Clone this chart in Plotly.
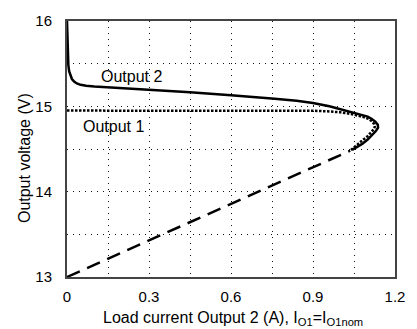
import plotly.graph_objects as go

# Output 2 voltage vs. its load current (solid curve, folds back at the current limit)
output2_current = [0.0, 0.001, 0.002, 0.003, 0.005, 0.008, 0.012, 0.018, 0.026, 0.036, 0.05,
                   0.07, 0.1, 0.15, 0.3, 0.45, 0.6, 0.69, 0.76, 0.84, 0.9, 0.96, 1.0, 1.04,
                   1.078, 1.1, 1.114, 1.128, 1.137, 1.138, 1.13, 1.118, 1.1, 1.08, 1.06, 1.043]
output2_voltage = [16.0, 15.85, 15.7, 15.58, 15.48, 15.41, 15.36, 15.32, 15.29, 15.268, 15.252,
                   15.24, 15.232, 15.222, 15.2, 15.165, 15.13, 15.11, 15.09, 15.065, 15.04, 15.0,
                   14.965, 14.935, 14.905, 14.88, 14.855, 14.82, 14.785, 14.75, 14.71, 14.67,
                   14.61, 14.56, 14.52, 14.49]

# Output 1 voltage at nominal load (dotted curve)
output1_current = [0.0, 0.5, 0.9, 0.96, 1.0, 1.04, 1.07, 1.09, 1.105, 1.117, 1.124, 1.126,
                   1.122, 1.112, 1.098, 1.08, 1.06, 1.036]
output1_voltage = [14.95, 14.95, 14.948, 14.94, 14.93, 14.91, 14.89, 14.87, 14.85, 14.82, 14.79,
                   14.76, 14.73, 14.69, 14.645, 14.6, 14.55, 14.48]

# Short-circuit / foldback load line (dashed)
foldback_current = [0.0, 1.036]
foldback_voltage = [13.0, 14.48]

# Grid positions and tick labels
x_grid = [0, 0.15, 0.3, 0.45, 0.6, 0.75, 0.9, 1.05, 1.2]
x_labels = ["0", "", "0.3", "", "0.6", "", "0.9", "", "1.2"]
y_grid = [13, 13.5, 14, 14.5, 15, 15.5, 16]
y_labels = ["13", "", "14", "", "15", "", "16"]

FONT = "Liberation Sans, Arial, Helvetica, sans-serif"

fig = go.Figure()
fig.add_trace(go.Scatter(x=foldback_current, y=foldback_voltage, mode="lines",
                         line=dict(color="black", width=2.5, dash="14px,8px")))
fig.add_trace(go.Scatter(x=output1_current, y=output1_voltage, mode="lines",
                         line=dict(color="black", width=2.5, dash="2.5px,1.5px")))
fig.add_trace(go.Scatter(x=output2_current, y=output2_voltage, mode="lines",
                         line=dict(color="black", width=2.5)))

fig.add_annotation(x=0.235, y=15.35, text="Output 2", showarrow=False,
                   font=dict(size=16, color="black", family=FONT))
fig.add_annotation(x=0.17, y=14.76, text="Output 1", showarrow=False,
                   font=dict(size=16, color="black", family=FONT))

# Axis titles as paper-anchored labels so the plot area keeps its fixed margins
fig.add_annotation(x=-0.13, y=0.466, xref="paper", yref="paper", xanchor="center", yanchor="middle",
                   text="Output voltage (V)", textangle=-90, showarrow=False,
                   font=dict(size=16, color="black", family=FONT))
fig.add_annotation(x=0.505, y=-0.164, xref="paper", yref="paper", xanchor="center", yanchor="middle",
                   text="Load current Output 2 (A), I<sub>O1</sub>=I<sub>O1nom</sub>", showarrow=False,
                   font=dict(size=16, color="black", family=FONT))

axis_common = dict(showline=True, mirror=True, linecolor="#444", linewidth=2,
                   showgrid=True, gridcolor="#111", gridwidth=1, griddash="1px,5px",
                   zeroline=False, ticks="", tickfont=dict(size=15, color="black", family=FONT))

fig.update_xaxes(range=[0, 1.2], tickvals=x_grid, ticktext=x_labels, ticklabelstandoff=5,
                 **axis_common)
fig.update_yaxes(range=[13, 16], tickvals=y_grid, ticktext=y_labels, ticklabelstandoff=10,
                 **axis_common)

fig.update_layout(width=417, height=329, showlegend=False,
                  margin=dict(l=67, r=13, t=15, b=52),
                  plot_bgcolor="white", paper_bgcolor="white")

fig.write_html("out.html")
